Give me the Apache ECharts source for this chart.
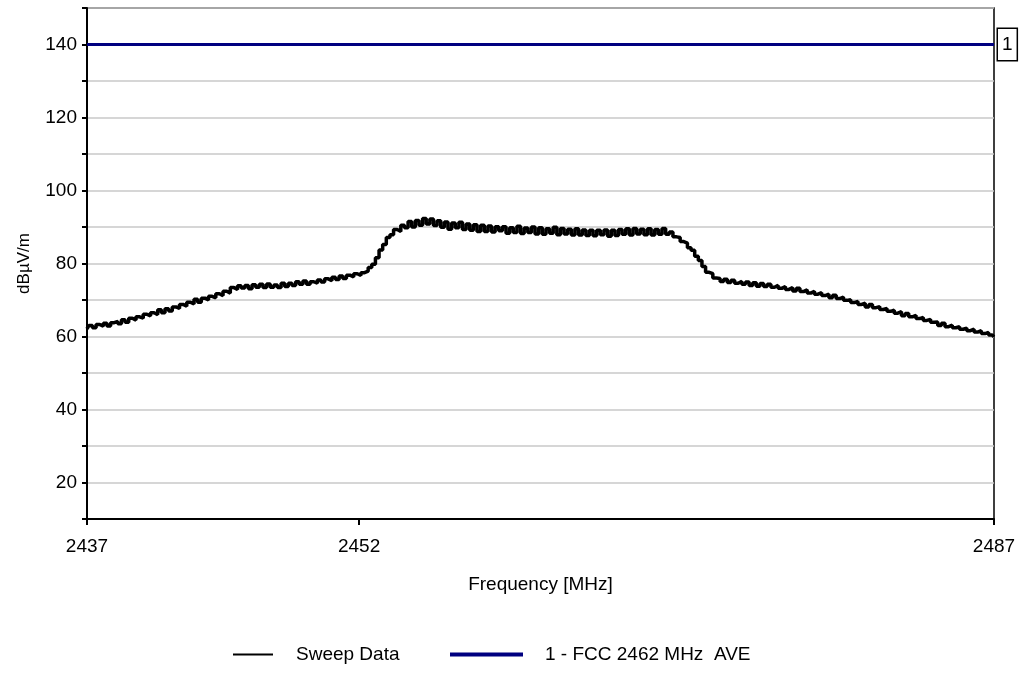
<!DOCTYPE html>
<html>
<head>
<meta charset="utf-8">
<title>Sweep Data</title>
<script src="https://cdn.jsdelivr.net/npm/echarts@6/dist/echarts.min.js"></script>
<style>
  html, body { margin: 0; padding: 0; background: #fff; }
  #chart { width: 1021px; height: 690px; }
</style>
</head>
<body>
<div id="chart"></div>
<script>
// sweep starts at 2437 MHz, one reading every 0.2 MHz
const sweepStart = 2437;
const sweepStep = 0.2;
const sweepValues = [
  62.1, 63.0, 62.4, 63.3, 62.8,  63.6, 62.9, 63.8, 64.1, 63.5,
  64.6, 63.9, 65.0, 64.5, 65.4,  65.0, 66.1, 65.6, 66.5, 66.0,
  67.3, 66.5, 67.6, 67.0, 68.1,  67.7, 68.8, 68.3, 69.4, 68.9,
  70.2, 69.4, 70.5, 70.0, 71.0,  70.6, 71.7, 71.2, 72.4, 71.9,
  73.4, 72.9, 73.9, 73.3, 74.0,  73.1, 74.2, 73.5, 74.3, 73.4,
  74.4, 73.5, 74.1, 73.4, 74.6,  73.7, 74.6, 74.0, 75.0, 74.3,
  75.2, 74.3, 75.0, 74.6, 75.5,  74.9, 75.8, 75.3, 76.2, 75.6,
  76.6, 75.9, 76.8, 76.3, 77.2,  76.7, 77.5, 77.9, 78.9, 79.8,
  81.6, 83.7, 85.2, 87.1, 87.9,  89.3, 88.8, 90.5, 89.8, 91.5,
  90.0, 91.8, 90.5, 92.3, 90.8,  92.2, 90.4, 91.7, 89.9, 91.4,
  89.4, 91.1, 89.8, 91.3, 89.3,  90.8, 89.1, 90.6, 88.8, 90.5,
  88.8, 90.3, 88.6, 90.1, 89.0,  90.1, 88.3, 89.8, 88.5, 90.2,
  88.2, 89.7, 88.5, 90.0, 88.1,  89.8, 88.0, 89.5, 88.3, 89.9,
  87.9, 89.6, 88.1, 89.4, 87.8,  89.5, 87.8, 89.2, 87.7, 89.1,
  87.6, 89.1, 87.9, 89.2, 87.5,  89.1, 87.7, 89.3, 88.0, 89.5,
  87.8, 89.6, 88.1, 89.4, 87.9,  89.5, 87.8, 89.3, 88.0, 89.6,
  88.0, 88.6, 87.3, 87.1, 86.0,  85.6, 84.3, 83.6, 82.0, 80.8,
  79.2, 77.6, 77.2, 76.0, 75.9,  75.1, 75.7, 74.8, 75.4, 74.6,
  75.1, 74.3, 74.9, 74.0, 74.7,  73.8, 74.5, 73.7, 74.3, 73.5,
  74.0, 73.2, 73.7, 72.9, 73.4,  72.5, 73.2, 72.3, 72.8, 71.9,
  72.4, 71.6, 72.0, 71.2, 71.6,  70.6, 71.3, 70.4, 70.8, 69.9,
  70.1, 69.3, 69.6, 68.8, 69.1,  68.1, 68.8, 67.9, 68.2, 67.4,
  67.7, 66.9, 67.2, 66.4, 66.8,  65.7, 66.3, 65.4, 65.8, 64.9,
  65.2, 64.4, 64.7, 63.9, 64.0,  63.0, 63.6, 62.7, 63.1, 62.4,
  62.7, 62.0, 62.3, 61.6, 62.0,  61.2, 61.6, 60.8, 61.1, 60.4,
  59.9
];

const limitName = '1 - FCC 2462 MHz  AVE';
const limitFreqs = [2437, 2487];
const limitValues = [140, 140];

const xTickLabels = [2437, 2452, 2487];
const yTickLabels = [20, 40, 60, 80, 100, 120, 140];

const sweepData = sweepValues.map((v, i) => [+(sweepStart + i * sweepStep).toFixed(1), v]);
const limitData = limitFreqs.map((f, i) => [f, limitValues[i]]);

const font = "'Liberation Sans', Arial, sans-serif";
const chart = echarts.init(document.getElementById('chart'), null, { renderer: 'canvas' });

chart.setOption({
  animation: false,
  textStyle: { fontFamily: font, color: '#000' },
  grid: {
    left: 87, right: 27, top: 8, bottom: 171,
    show: true, borderColor: '#000', borderWidth: 1.5,
    containLabel: false
  },
  legend: [
    {
      left: 228, top: 640,
      itemWidth: 40, itemHeight: 2,
      data: [{ name: 'Sweep Data', icon: 'rect' }],
      textStyle: { fontFamily: font, fontSize: 19, color: '#000', padding: [0, 0, 0, 18] }
    },
    {
      left: 445, top: 640,
      itemWidth: 73, itemHeight: 4,
      data: [{ name: limitName, icon: 'rect' }],
      textStyle: { fontFamily: font, fontSize: 19, color: '#000', padding: [0, 0, 0, 17] }
    }
  ],
  xAxis: {
    type: 'value',
    min: 2437, max: 2487,
    name: 'Frequency [MHz]',
    nameLocation: 'middle',
    nameGap: 56,
    nameTextStyle: { fontFamily: font, fontSize: 19, color: '#000' },
    axisLine: { lineStyle: { color: '#000', width: 2 } },
    axisTick: { show: true, length: 6, customValues: xTickLabels, lineStyle: { color: '#000', width: 2 } },
    axisLabel: {
      customValues: xTickLabels, margin: 18, fontSize: 19, color: '#000', fontFamily: font,
      formatter: v => String(v)
    },
    splitLine: { show: false }
  },
  yAxis: {
    type: 'value',
    min: 10, max: 150, interval: 10,
    name: 'dBµV/m',
    nameLocation: 'middle',
    nameGap: 54,
    nameTextStyle: { fontFamily: font, fontSize: 17, color: '#000' },
    axisLine: { show: true, lineStyle: { color: '#000', width: 2 } },
    axisTick: { show: true, length: 5, lineStyle: { color: '#000', width: 2 } },
    axisLabel: { customValues: yTickLabels, margin: 10, fontSize: 19, color: '#000', fontFamily: font },
    splitLine: { show: true, lineStyle: { color: '#c8c8c8', width: 1.5 } }
  },
  series: [
    {
      name: 'Sweep Data',
      type: 'line',
      data: sweepData,
      step: 'middle',
      showSymbol: false,
      color: '#000',
      lineStyle: { color: '#000', width: 3.5 },
      z: 3
    },
    {
      name: limitName,
      type: 'line',
      data: limitData,
      showSymbol: false,
      color: '#000080',
      lineStyle: { color: '#000080', width: 3 },
      z: 4,
      endLabel: {
        show: true,
        formatter: '1',
        distance: 4,
        fontFamily: font,
        fontSize: 19,
        color: '#000',
        backgroundColor: '#fff',
        borderColor: '#000',
        borderWidth: 1.5,
        padding: [7, 4, 5, 4]
      }
    }
  ]
});
</script>
</body>
</html>
